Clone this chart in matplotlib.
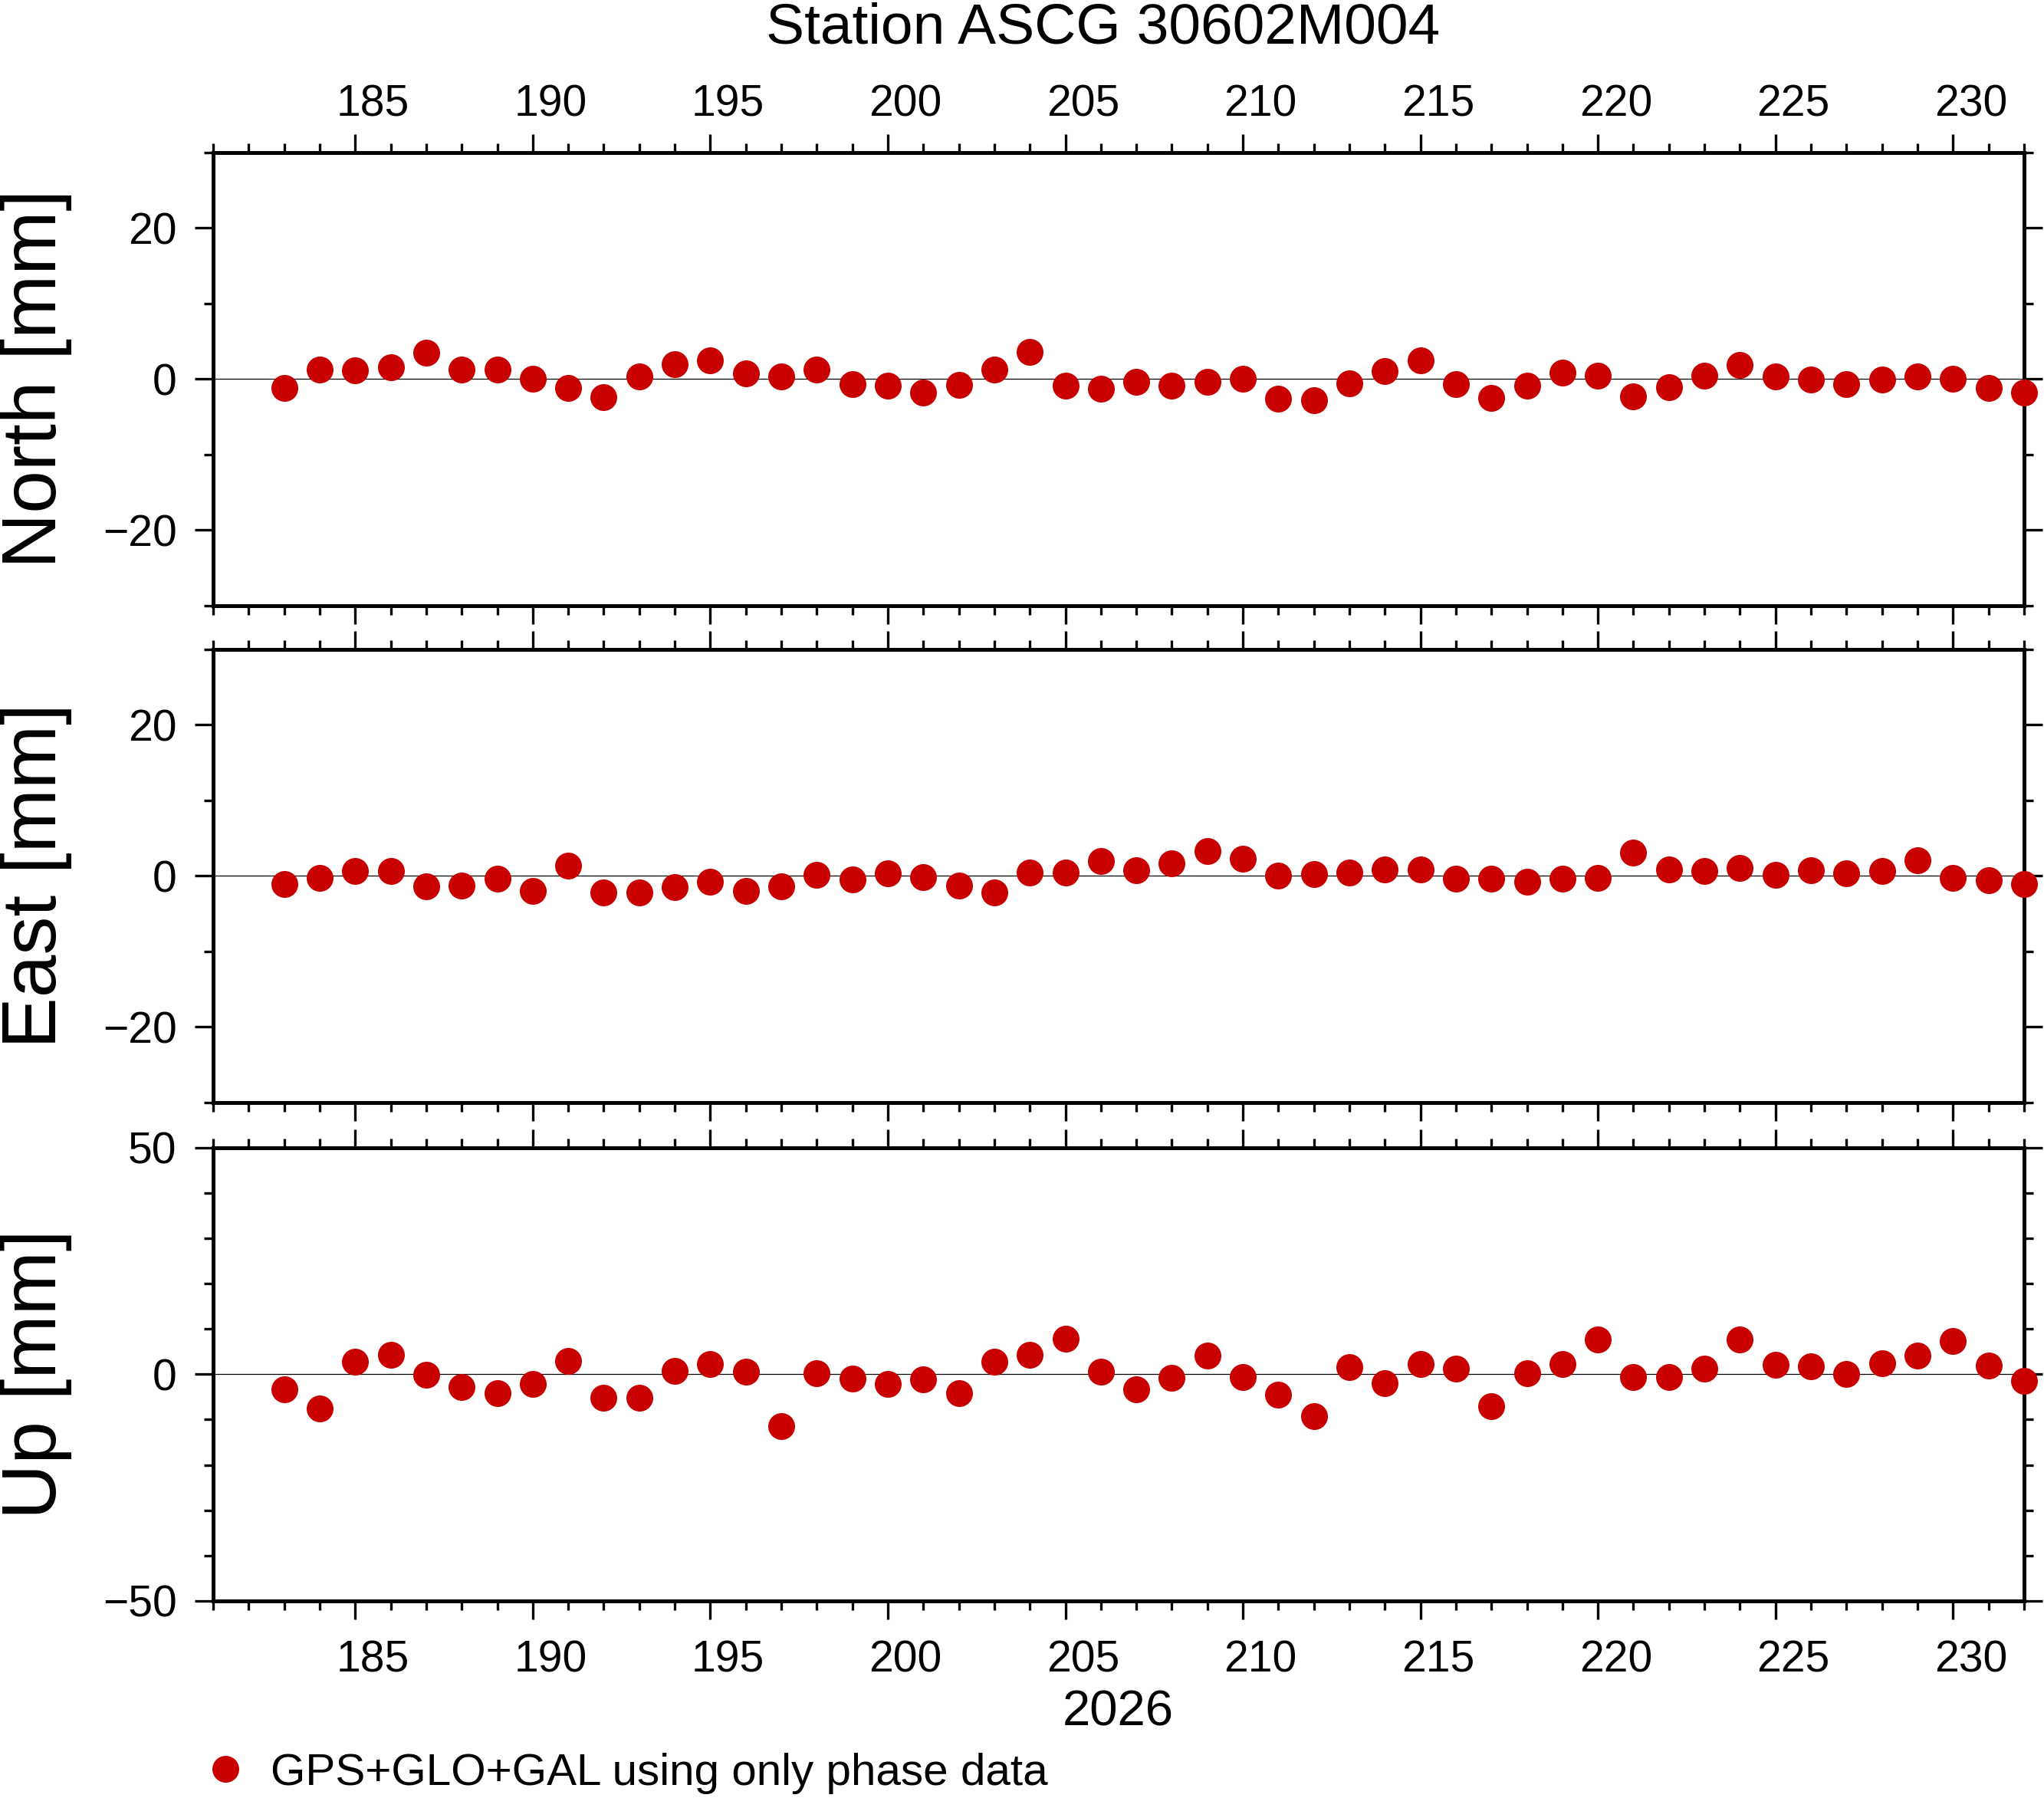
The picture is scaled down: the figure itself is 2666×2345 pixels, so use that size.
import matplotlib
matplotlib.use("Agg")
import matplotlib.pyplot as plt
from matplotlib.lines import Line2D
from matplotlib.ticker import MultipleLocator, FixedLocator, FixedFormatter, NullLocator

plt.rcParams['font.family'] = ['Liberation Sans', 'DejaVu Sans']

# day of year 2026
days = list(range(183, 233))
label_days = list(range(185, 231, 5))

north = [-1.2, 1.3, 1.1, 1.6, 3.5, 1.2, 1.3, 0.0, -1.2, -2.4,
         0.3, 2.0, 2.5, 0.7, 0.3, 1.3, -0.7, -0.9, -1.8, -0.8,
         1.3, 3.6, -0.9, -1.3, -0.4, -0.9, -0.4, 0.0, -2.6, -2.8,
         -0.6, 1.0, 2.5, -0.7, -2.5, -0.9, 0.8, 0.4, -2.3, -1.1,
         0.4, 1.9, 0.3, -0.1, -0.7, -0.1, 0.3, 0.0, -1.2, -1.8]

east = [-1.1, -0.3, 0.6, 0.6, -1.4, -1.3, -0.4, -2.0, 1.3, -2.2,
        -2.2, -1.5, -0.8, -2.0, -1.4, 0.1, -0.5, 0.3, -0.2, -1.3,
        -2.2, 0.4, 0.4, 2.0, 0.7, 1.6, 3.3, 2.3, 0.0, 0.2,
        0.4, 0.8, 0.8, -0.4, -0.4, -0.8, -0.4, -0.3, 3.1, 0.8,
        0.6, 1.0, 0.1, 0.7, 0.3, 0.6, 2.1, -0.3, -0.6, -1.1]

up = [-3.4, -7.6, 2.7, 4.2, -0.1, -2.9, -4.1, -2.2, 2.9, -5.2,
      -5.2, 0.8, 2.2, 0.5, -11.4, 0.2, -1.0, -2.2, -1.2, -4.1,
      2.7, 4.2, 7.8, 0.5, -3.4, -0.8, 4.1, -0.7, -4.6, -9.3,
      1.5, -2.0, 2.2, 1.2, -7.1, 0.2, 2.2, 7.6, -0.7, -0.7,
      1.2, 7.6, 2.0, 1.7, 0.0, 2.4, 4.1, 7.3, 1.9, -1.5]

components = ["North [mm]", "East [mm]", "Up [mm]"]
series = [north, east, up]
ylims = [30, 30, 50]
ymajor = [20, 20, 50]

title = "Station ASCG 30602M004"
year_label = "2026"
legend_label = "GPS+GLO+GAL using only phase data"
dot_color = "#c80000"

fig = plt.figure(figsize=(2666 / 200, 2345 / 200), dpi=200)

left, right = 0.1043, 0.9902
bottoms = [0.6631, 0.3868, 0.1096]
height = 0.2522


def day_labels(ax, where, pad):
    # day labels sit in the middle of each day, like GMT does
    sec = ax.secondary_xaxis(where)
    sec.xaxis.set_major_locator(FixedLocator([d + 0.5 for d in label_days]))
    sec.xaxis.set_minor_locator(NullLocator())
    sec.xaxis.set_major_formatter(FixedFormatter([str(d) for d in label_days]))
    sec.tick_params(length=0, labelsize=20.5, pad=pad)
    for sp in sec.spines.values():
        sp.set_visible(False)


for i, (name, vals) in enumerate(zip(components, series)):
    ax = fig.add_axes([left, bottoms[i], right - left, height])
    ax.axhline(0, color="black", lw=0.45, zorder=1)
    ax.plot(days, vals, "o", color=dot_color, ms=12.6, mew=0, zorder=3,
            clip_on=False)
    ax.set_xlim(181, 232)
    ax.set_ylim(-ylims[i], ylims[i])
    ax.xaxis.set_major_locator(MultipleLocator(5))
    ax.xaxis.set_minor_locator(MultipleLocator(1))
    ax.yaxis.set_major_locator(MultipleLocator(ymajor[i]))
    ax.yaxis.set_minor_locator(MultipleLocator(10))
    for sp in ax.spines.values():
        sp.set_linewidth(1.8)
    ax.tick_params(which="both", direction="out", top=True, bottom=True,
                   left=True, right=True, width=1.2, labelsize=20.5)
    ax.tick_params(which="major", length=8.6)
    ax.tick_params(which="minor", length=4.4)
    ax.tick_params(axis="y", pad=8.5, labelright=False)
    ax.tick_params(axis="x", labeltop=False, labelbottom=False)
    if i == 0:
        day_labels(ax, "top", 12.6)
    if i == 2:
        day_labels(ax, "bottom", 18.2)
    yc = bottoms[i] + height / 2
    fig.text(0.0274, yc, name, rotation=90, rotation_mode="anchor",
             ha="center", va="baseline", fontsize=36)

fig.text(0.5398, 0.9757, title, ha="center", va="baseline", fontsize=27)
fig.text(0.547, 0.0405, year_label, ha="center", va="baseline", fontsize=23.5)

handle = Line2D([], [], ls="none", marker="o", ms=12.6, mew=0, color=dot_color)
fig.legend([handle], [legend_label], loc="center left",
           bbox_to_anchor=(0.0994, 0.0137), frameon=False, fontsize=21,
           handlelength=1.0, handletextpad=0.5, borderpad=0, borderaxespad=0)

fig.savefig("out.png", dpi=200)
